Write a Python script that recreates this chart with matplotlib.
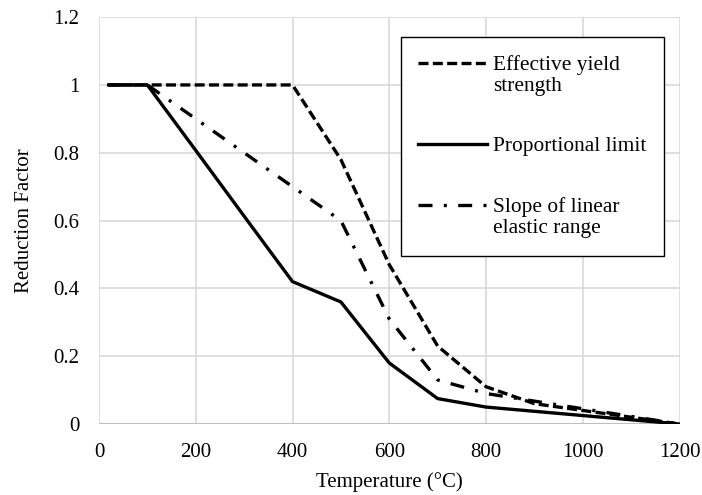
import matplotlib.pyplot as plt

# Reduction factors for steel at elevated temperature
temperature = [20, 100, 200, 300, 400, 500, 600, 700, 800, 900, 1000, 1100, 1200]
yield_strength = [1, 1, 1, 1, 1, 0.78, 0.47, 0.23, 0.11, 0.06, 0.04, 0.02, 0]
prop_limit = [1, 1, 0.807, 0.613, 0.42, 0.36, 0.18, 0.075, 0.05, 0.0375, 0.025, 0.0125, 0]
elastic_slope = [1, 1, 0.9, 0.8, 0.7, 0.6, 0.31, 0.13, 0.09, 0.0675, 0.045, 0.0225, 0]

x_ticks = [0, 200, 400, 600, 800, 1000, 1200]
y_ticks = [0, 0.2, 0.4, 0.6, 0.8, 1, 1.2]
y_tick_labels = ["0", "0.2", "0.4", "0.6", "0.8", "1", "1.2"]

plt.rcParams['font.family'] = ['Liberation Serif', 'DejaVu Serif']

fig = plt.figure(figsize=(7.02, 4.95), dpi=100)
ax = fig.add_axes([0.141, 0.1434, 0.827, 0.822])

ax.plot(temperature, yield_strength, color="black", lw=2.4, linestyle=(0, (3.0, 1.3)),
        label="Effective yield\nstrength")
ax.plot(temperature, prop_limit, color="black", lw=2.4, linestyle="-",
        label="Proportional limit")
ax.plot(temperature, elastic_slope, color="black", lw=2.4, linestyle=(0, (4.2, 3.4, 0.9, 3.4)),
        label="Slope of linear\nelastic range")

ax.set_xlim(0, 1200)
ax.set_ylim(0, 1.2)
ax.set_xticks(x_ticks)
ax.set_yticks(y_ticks)
ax.set_yticklabels(y_tick_labels)
ax.grid(True, color="#d9d9d9", lw=1.2)
ax.set_axisbelow(True)
for s in ax.spines.values():
    s.set_visible(False)
ax.axhline(0, color="#bfbfbf", lw=1.5, zorder=1)
ax.tick_params(length=0, labelsize=15)
ax.tick_params(axis="x", pad=13.5)
ax.tick_params(axis="y", pad=14)

ax.set_xlabel("Temperature (°C)", fontsize=15, labelpad=7.5)
ax.set_ylabel("Reduction Factor", fontsize=15, labelpad=14)

leg = ax.legend(loc="upper left", bbox_to_anchor=(0.52, 0.951), fontsize=15.4,
                frameon=True, fancybox=False, edgecolor="black", framealpha=1,
                handlelength=3.2, handletextpad=0.3, labelspacing=1.88,
                borderpad=0.82, borderaxespad=0)
leg.get_frame().set_linewidth(1.0)

# put the handle next to the first line of two-line labels
for line, text in zip(leg.get_lines(), leg.get_texts()):
    if "\n" in text.get_text():
        line.set_ydata([y + 8.5 for y in line.get_ydata()])

plt.savefig("out.png", dpi=100)
